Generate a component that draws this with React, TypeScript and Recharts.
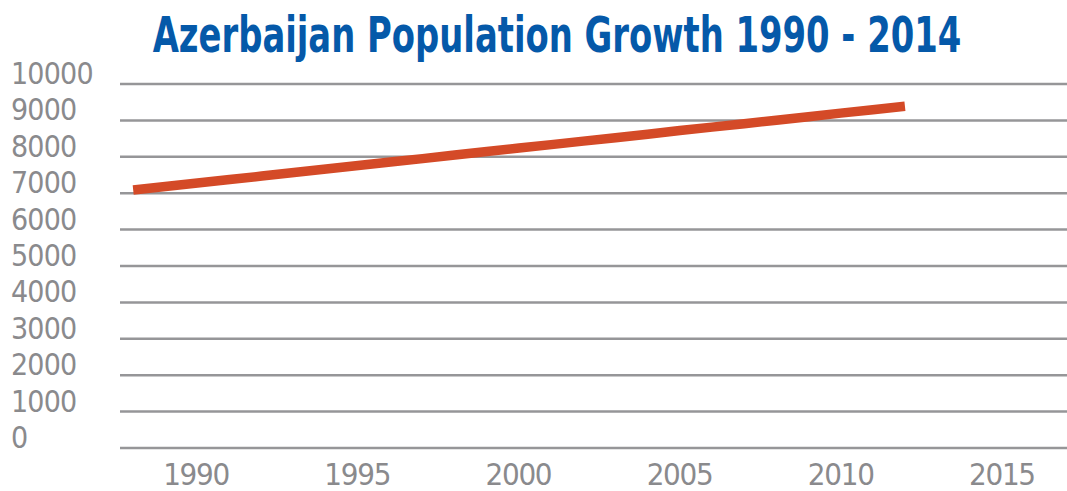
import { LineChart, Line, XAxis, YAxis, CartesianGrid } from "recharts";

// Azerbaijan population (thousands)
const years = [
  1990, 1991, 1992, 1993, 1994, 1995, 1996, 1997, 1998, 1999, 2000, 2001, 2002,
  2003, 2004, 2005, 2006, 2007, 2008, 2009, 2010, 2011, 2012, 2013, 2014,
];
const population = [
  7090, 7185, 7280, 7375, 7470, 7570, 7665, 7760, 7855, 7950, 8050, 8145, 8240,
  8335, 8430, 8525, 8620, 8720, 8815, 8910, 9005, 9100, 9200, 9295, 9390,
];
const yTicks = [0, 1000, 2000, 3000, 4000, 5000, 6000, 7000, 8000, 9000, 10000];
const xTicks = [1990, 1995, 2000, 2005, 2010, 2015];

const TITLE = "Azerbaijan Population Growth 1990 - 2014";
const FONT = "'DejaVu Sans Condensed', 'Liberation Sans Narrow', sans-serif";
const GREY = "#8a8a8d";

const data = years.map((year, i) => ({ year, value: population[i] }));

const YTick = (props: any) => {
  const { y, payload } = props;
  return (
    <text x={11} y={y} textAnchor="start" fill={GREY} fontFamily={FONT} fontSize={30} letterSpacing={-0.8}>
      {payload.value}
    </text>
  );
};

const XTick = (props: any) => {
  const { x, y, payload } = props;
  return (
    <text x={x} y={y} dy={35} textAnchor="middle" fill={GREY} fontFamily={FONT} fontSize={31} letterSpacing={-1.3}>
      {payload.value}
    </text>
  );
};

export default function App() {
  return (
    <div style={{ position: "absolute", left: 0, top: 0, width: 1067, height: 491, background: "#fff" }}>
      <LineChart width={1067} height={491} data={data} margin={{ top: 84, right: 0, bottom: 0, left: 0 }}>
        <CartesianGrid vertical={false} stroke="#969698" strokeWidth={2.5} />
        <YAxis
          domain={[0, 10000]}
          ticks={yTicks}
          width={120}
          axisLine={false}
          tickLine={false}
          tick={<YTick />}
          interval={0}
        />
        {/* axis that carries the year labels */}
        <XAxis
          xAxisId="labels"
          dataKey="year"
          type="number"
          domain={[1987.64, 2017.02]}
          ticks={xTicks}
          allowDataOverflow
          height={43}
          axisLine={false}
          tickLine={false}
          tickSize={0}
          tick={<XTick />}
          interval={0}
        />
        {/* axis the series is plotted on */}
        <XAxis
          xAxisId="data"
          dataKey="year"
          type="number"
          domain={[1989.59, 2019.04]}
          allowDataOverflow
          height={0}
          hide
        />
        <Line
          xAxisId="data"
          dataKey="value"
          type="linear"
          stroke="#d44a27"
          strokeWidth={9.5}
          strokeLinecap="butt"
          dot={false}
          activeDot={false}
          isAnimationActive={false}
        />
      </LineChart>
      <svg width={1067} height={70} style={{ position: "absolute", left: 0, top: 0 }}>
        <text
          transform="translate(152.7,51.7) scale(1,1.3)"
          fill="#0559a9"
          fontFamily={FONT}
          fontWeight="bold"
          fontSize={37.6}
        >
          {TITLE}
        </text>
      </svg>
    </div>
  );
}
